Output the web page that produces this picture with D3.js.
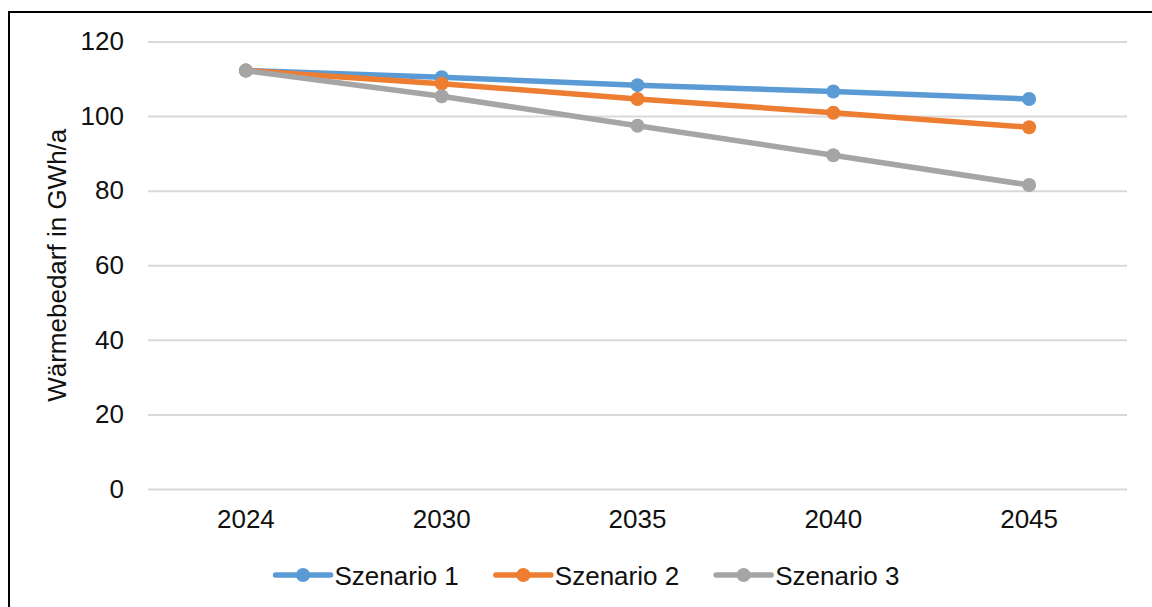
<!DOCTYPE html>
<html>
<head>
<meta charset="utf-8">
<script src="https://cdn.jsdelivr.net/npm/d3@7"></script>
<style>
  body { margin: 0; background: #fff; }
  svg { display: block; font-family: "Liberation Sans", Arial, sans-serif; }
</style>
</head>
<body>
<svg id="chart" width="1152" height="607"></svg>
<script>
// Data
const years = ['2024', '2030', '2035', '2040', '2045'];
const seriesNames = ['Szenario 1', 'Szenario 2', 'Szenario 3'];
const szenario1 = [112.2, 110.4, 108.3, 106.6, 104.6];
const szenario2 = [112.2, 108.7, 104.6, 100.9, 97.0];
const szenario3 = [112.2, 105.3, 97.4, 89.5, 81.5];
const yTicks = [0, 20, 40, 60, 80, 100, 120];
const colors = ['#5B9BD5', '#ED7D31', '#A5A5A5'];

const series = [szenario1, szenario2, szenario3].map((vals, i) => ({
    name: seriesNames[i],
    color: colors[i],
    values: vals.map((v, j) => ({ year: years[j], value: v }))
}));

const svg = d3.select('svg#chart');

// Outer frame
svg.append('rect')
    .attr('x', 9)
    .attr('y', 12)
    .attr('width', 1300)
    .attr('height', 800)
    .attr('fill', 'none')
    .attr('stroke', '#000')
    .attr('stroke-width', 2);

const plot = { left: 148, right: 1127, top: 41.5, bottom: 489 };

const xScale = d3.scaleBand()
    .domain(years)
    .range([plot.left, plot.right])
    .padding(0);

const yScale = d3.scaleLinear()
    .domain([0, 120])
    .range([plot.bottom, plot.top]);

// Y axis with gridlines
const yAxis = d3.axisLeft(yScale)
    .tickValues(yTicks)
    .tickSize(-(plot.right - plot.left))
    .tickPadding(24);

const yg = svg.append('g')
    .attr('transform', `translate(${plot.left}, 0)`)
    .call(yAxis);
yg.select('.domain').remove();
yg.selectAll('.tick line').attr('stroke', '#D9D9D9').attr('stroke-width', 2);
yg.selectAll('.tick text')
    .attr('fill', '#111')
    .style('font-size', '26px')
    .style('font-family', '"Liberation Sans", Arial, sans-serif');

// X axis
const xAxis = d3.axisBottom(xScale)
    .tickSize(0)
    .tickPadding(21);

const xg = svg.append('g')
    .attr('transform', `translate(0, ${plot.bottom})`)
    .call(xAxis);
xg.select('.domain').remove();
xg.selectAll('.tick text')
    .attr('fill', '#111')
    .style('font-size', '26px')
    .style('font-family', '"Liberation Sans", Arial, sans-serif');

// Y axis title
svg.append('text')
    .attr('transform', `translate(66, ${(plot.top + plot.bottom) / 2}) rotate(-90)`)
    .attr('text-anchor', 'middle')
    .attr('fill', '#111')
    .style('font-size', '26px')
    .text('Wärmebedarf in GWh/a');

// Lines and markers
const line = d3.line()
    .x(d => xScale(d.year) + xScale.bandwidth() / 2)
    .y(d => yScale(d.value));

series.forEach(s => {
    const g = svg.append('g');
    g.append('path')
        .datum(s.values)
        .attr('d', line)
        .attr('fill', 'none')
        .attr('stroke', s.color)
        .attr('stroke-width', 5.5)
        .attr('stroke-linejoin', 'round');
    g.selectAll('circle')
        .data(s.values)
        .enter()
        .append('circle')
        .attr('cx', d => xScale(d.year) + xScale.bandwidth() / 2)
        .attr('cy', d => yScale(d.value))
        .attr('r', 7)
        .attr('fill', s.color);
});

// Legend
const legendY = 575;
const legend = svg.append('g');
const items = legend.selectAll('g')
    .data(series)
    .enter()
    .append('g');

items.append('line')
    .attr('x1', 0)
    .attr('x2', 55)
    .attr('y1', 0)
    .attr('y2', 0)
    .attr('stroke', d => d.color)
    .attr('stroke-width', 5.5)
    .attr('stroke-linecap', 'round');
items.append('circle')
    .attr('cx', 27.5)
    .attr('cy', 0)
    .attr('r', 7)
    .attr('fill', d => d.color);
items.append('text')
    .attr('x', 59)
    .attr('y', 9.5)
    .attr('fill', '#111')
    .style('font-size', '26px')
    .text(d => d.name);

// Place items side by side, centered
let offset = 0;
const positions = [];
items.each(function() {
    const w = 59 + d3.select(this).select('text').node().getComputedTextLength();
    positions.push(offset);
    offset += w + 37;
});
const total = offset - 37;
const startX = 587.5 - total / 2;
items.attr('transform', (d, i) => `translate(${startX + positions[i]}, ${legendY})`);
</script>
</body>
</html>
